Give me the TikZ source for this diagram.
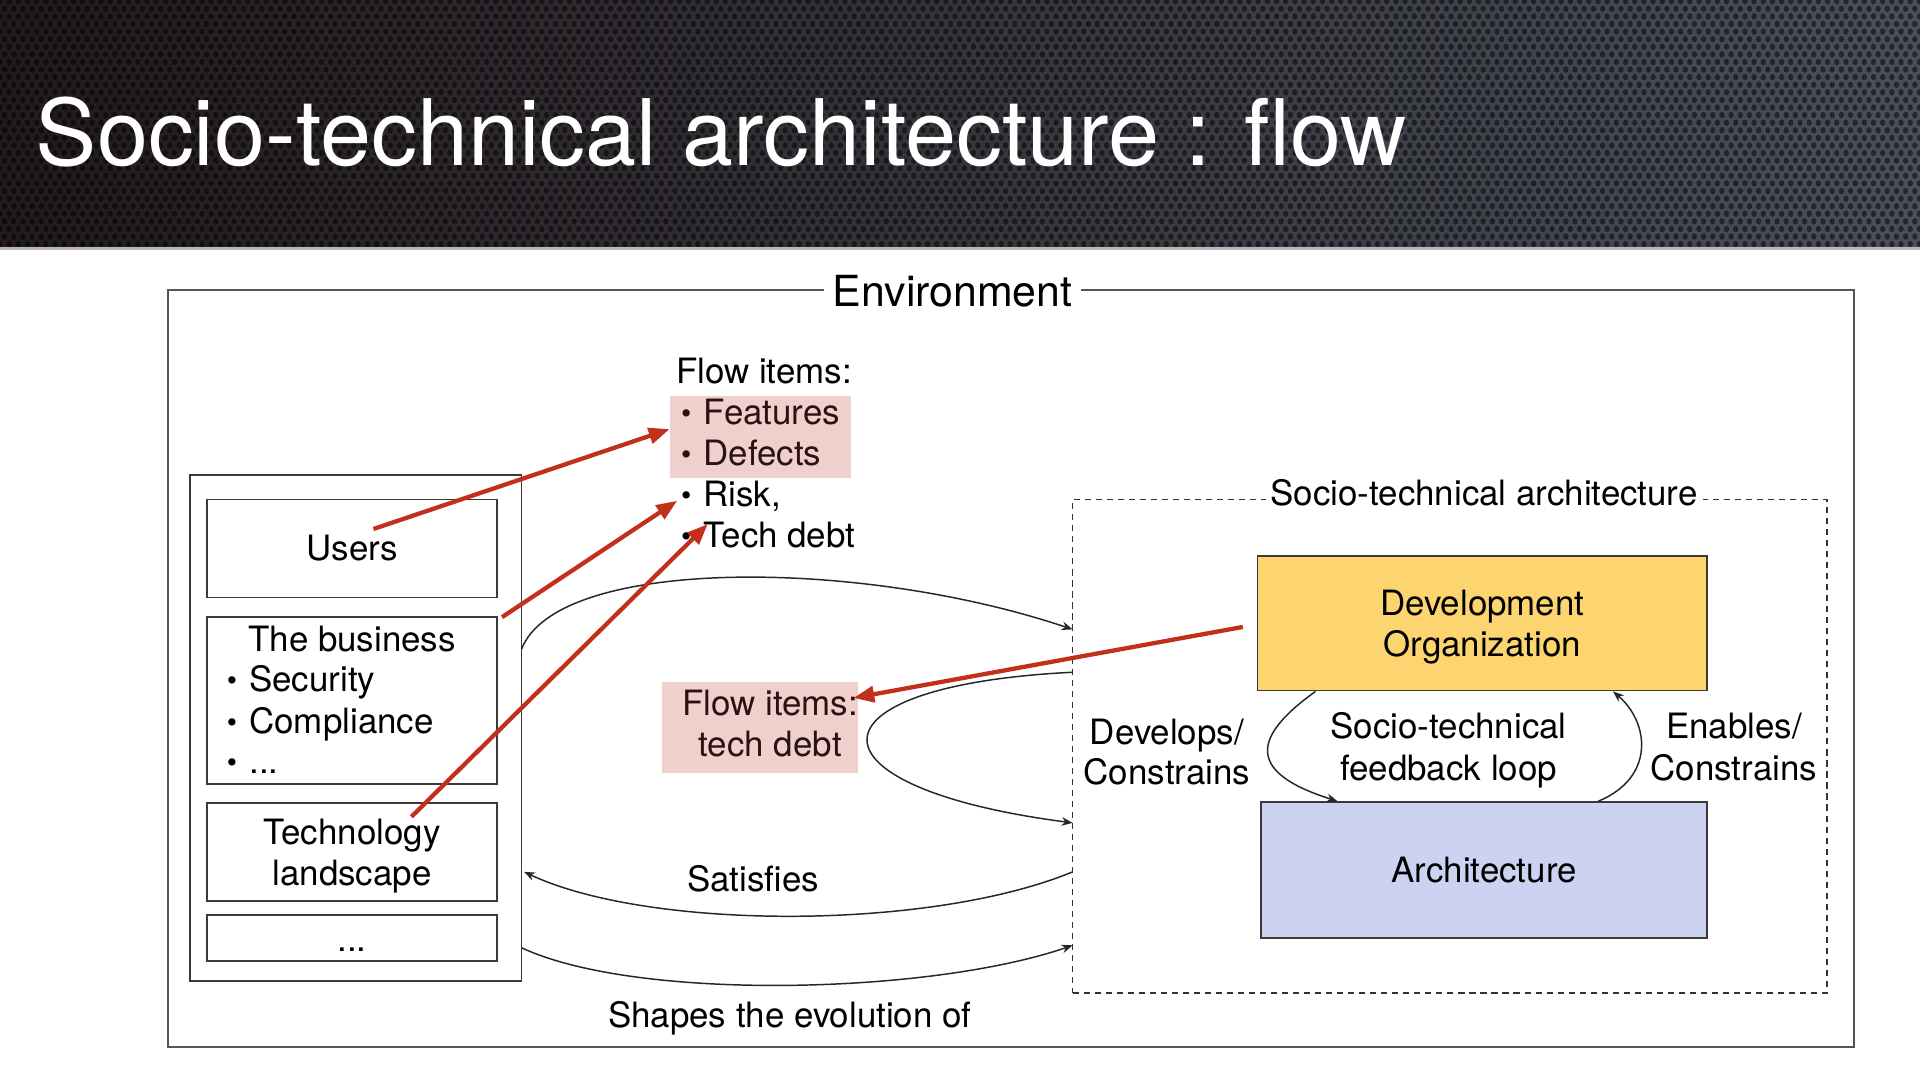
\documentclass[tikz,border=0pt]{standalone}
\usepackage{fontspec}
\setmainfont{TeX Gyre Heros}
\usetikzlibrary{arrows.meta,calc}
\definecolor{redarr}{HTML}{C2301C}
\definecolor{pinkbg}{HTML}{EFD0CC}
\definecolor{pinktext}{HTML}{2A1210}
\definecolor{devyellow}{HTML}{FCD571}
\definecolor{archblue}{HTML}{CBD3F1}
\definecolor{boxline}{HTML}{3A3A3A}
\definecolor{envline}{HTML}{555555}
\definecolor{bannerL}{HTML}{221A1C}
\definecolor{bannerR}{HTML}{4A4F5A}
\newcommand\diagfont{\fontsize{28.5}{33.5}\selectfont}
\newcommand\envfont{\fontsize{35}{40}\selectfont}
\newcommand\titlefont{\fontsize{75}{80}\selectfont}
\newcommand\bul{\raisebox{0.8pt}{\fontsize{24}{24}\selectfont\textbullet}\hspace{10pt}}
\begin{document}
\begin{tikzpicture}[x=1pt,y=-1pt,
  every node/.style={font=\diagfont, inner sep=0pt},
  wbox/.style={draw=boxline, line width=1.4pt, minimum width=237pt, fill=white, align=center},
  redarrow/.style={draw=redarr, line width=3.5pt, -{Triangle[length=17pt,width=13pt]}},
  blkarrow/.style={draw=black!85, line width=1.2pt, -{Stealth[length=9pt,width=7pt]}},
  txt/.style={anchor=base},
  ltxt/.style={anchor=base west},
]
\useasboundingbox (0,0) rectangle (1568,882);
\fill[white] (0,0) rectangle (1568,882);
% banner
\shade[left color=bannerL, right color=bannerR] (0,0) rectangle (1568,203);
\begin{scope}
\clip (0,0) rectangle (1568,203);
\foreach \r in {0,...,33} {
  \pgfmathsetmacro{\rowoff}{mod(\r,2)*3.75}
  \pgfmathsetmacro{\rowy}{\r*6.2+1}
  \fill[black, fill opacity=0.5] \foreach \c in {0,...,210} { ({\c*7.5+\rowoff},\rowy) ellipse [x radius=2.2, y radius=2.6] };
}
\end{scope}
\draw[gray!55, line width=2pt] (0,203) -- (1568,203);
\node[anchor=base west, text=white, font=\titlefont] (title) at (29,135) {Socio-technical architecture : flow};

% environment
\node[draw=envline, line width=1.4pt, minimum width=1377pt, minimum height=618pt] (env) at (825.5,546) {};
\node[txt, font=\envfont, fill=white, inner xsep=7pt, inner ysep=3pt] (envlbl) at (778,250) {Environment};

% left group
\node[draw=boxline, line width=1.4pt, minimum width=271pt, minimum height=413pt] (grp) at (290.5,594.5) {};
\node[wbox, minimum height=80pt] (users) at (287.5,448) {Users};
\node[wbox, minimum height=136pt] (biz) at (287.5,572) {};
\node[txt] (biztitle) at (287.5,532) {The business};
\node[ltxt] (bizl1) at (185,565) {\bul Security};
\node[ltxt] (bizl2) at (185,599) {\bul Compliance};
\node[ltxt] (bizl3) at (185,632) {\bul ...};
\node[wbox, minimum height=80pt] (tech) at (287.5,696) {};
\node[align=center] (techtxt) at ($(tech.center)+(0,3.5)$) {Technology\\landscape};
\node[wbox, minimum height=38pt] (more) at (287.5,766) {};
\node[txt] (moredots) at (287.5,777) {...};

% flow items list
\node[fill=pinkbg, minimum width=148pt, minimum height=67pt] (fipink) at (621,356.5) {};
\node[ltxt] (fihead) at (552,313) {Flow items:};
\node[ltxt, text=pinktext] (fi1) at (556,347) {\bul Features};
\node[ltxt, text=pinktext] (fi2) at (556,380) {\bul Defects};
\node[ltxt] (fi3) at (556,414) {\bul Risk,};
\node[ltxt] (fi4) at (556,447) {\bul Tech debt};

% flow items tech debt
\node[fill=pinkbg, minimum width=160pt, minimum height=74pt] (tdpink) at (621,594) {};
\node[txt, text=pinktext] (td1) at (629,584) {Flow items:};
\node[txt, text=pinktext] (td2) at (629,618) {tech debt};

% socio-technical architecture
\node[draw=black!80, dash pattern=on 5pt off 4pt, line width=1.1pt, minimum width=616pt, minimum height=403pt] (sta) at (1184,609.5) {};
\node[txt, fill=white, inner xsep=4pt, inner ysep=2pt] (stalbl) at (1212,413) {Socio-technical architecture};
\node[draw=boxline, fill=devyellow, line width=1.4pt, minimum width=367pt, minimum height=110pt] (dev) at (1210.5,509) {};
\node[align=center] (devtxt) at ($(dev.center)+(0,3)$) {Development\\Organization};
\node[draw=boxline, fill=archblue, line width=1.4pt, minimum width=364pt, minimum height=111pt] (arch) at (1212,710.5) {Architecture};
\node[txt] (dc1) at (953,608) {Develops/};
\node[txt] (dc2) at (953,641) {Constrains};
\node[txt] (fb1) at (1183,603) {Socio-technical};
\node[txt] (fb2) at (1183,637) {feedback loop};
\node[txt] (ec1) at (1416,603) {Enables/};
\node[txt] (ec2) at (1416,637) {Constrains};
\node[txt] (sat) at (615,728) {Satisfies};
\node[txt] (shp) at (645,839) {Shapes the evolution of};

% black connectors
\coordinate (p1s) at (426,530);
\coordinate (p1e) at (876,514);
\coordinate (p2s) at (876,549);
\coordinate (p2e) at (876,672);
\coordinate (p3s) at (876,712);
\coordinate (p3e) at (428,712);
\coordinate (p4s) at (426,774);
\coordinate (p4e) at (876,772);
\draw[blkarrow] (p1s) .. controls (455,455) and (700,455) .. (p1e);
\draw[blkarrow] (p2s) .. controls (653,560) and (653,643) .. (p2e);
\draw[blkarrow] (p3s) .. controls (760,760) and (530,760) .. (p3e);
\draw[blkarrow] (p4s) .. controls (520,818) and (760,812) .. (p4e);
\coordinate (fl1s) at ($(dev.south west)+(48,0)$);
\coordinate (fl1e) at ($(arch.north west)+(63,0)$);
\coordinate (fr1s) at ($(arch.north west)+(276,0)$);
\coordinate (fr1e) at ($(dev.south west)+(291,0)$);
\draw[blkarrow] (fl1s) .. controls (1025,600) and (1015,630) .. (fl1e);
\draw[blkarrow] (fr1s) .. controls (1352,635) and (1347,590) .. (fr1e);

% red arrows
\coordinate (ru) at (305,432);
\coordinate (rb) at (410,504);
\coordinate (rt) at (336,667);
\coordinate (rd) at (1015,512);
\coordinate (riskpt) at (553,409);
\coordinate (tdpt) at (578,428);
\coordinate (tdtip) at (697,570);
\draw[redarrow] (ru) -- ($(fipink.west)+(0,-6)$);
\draw[redarrow] (rb) -- (riskpt);
\draw[redarrow] (rt) -- (tdpt);
\draw[redarrow] (rd) -- (tdtip);
\end{tikzpicture}
\end{document}
